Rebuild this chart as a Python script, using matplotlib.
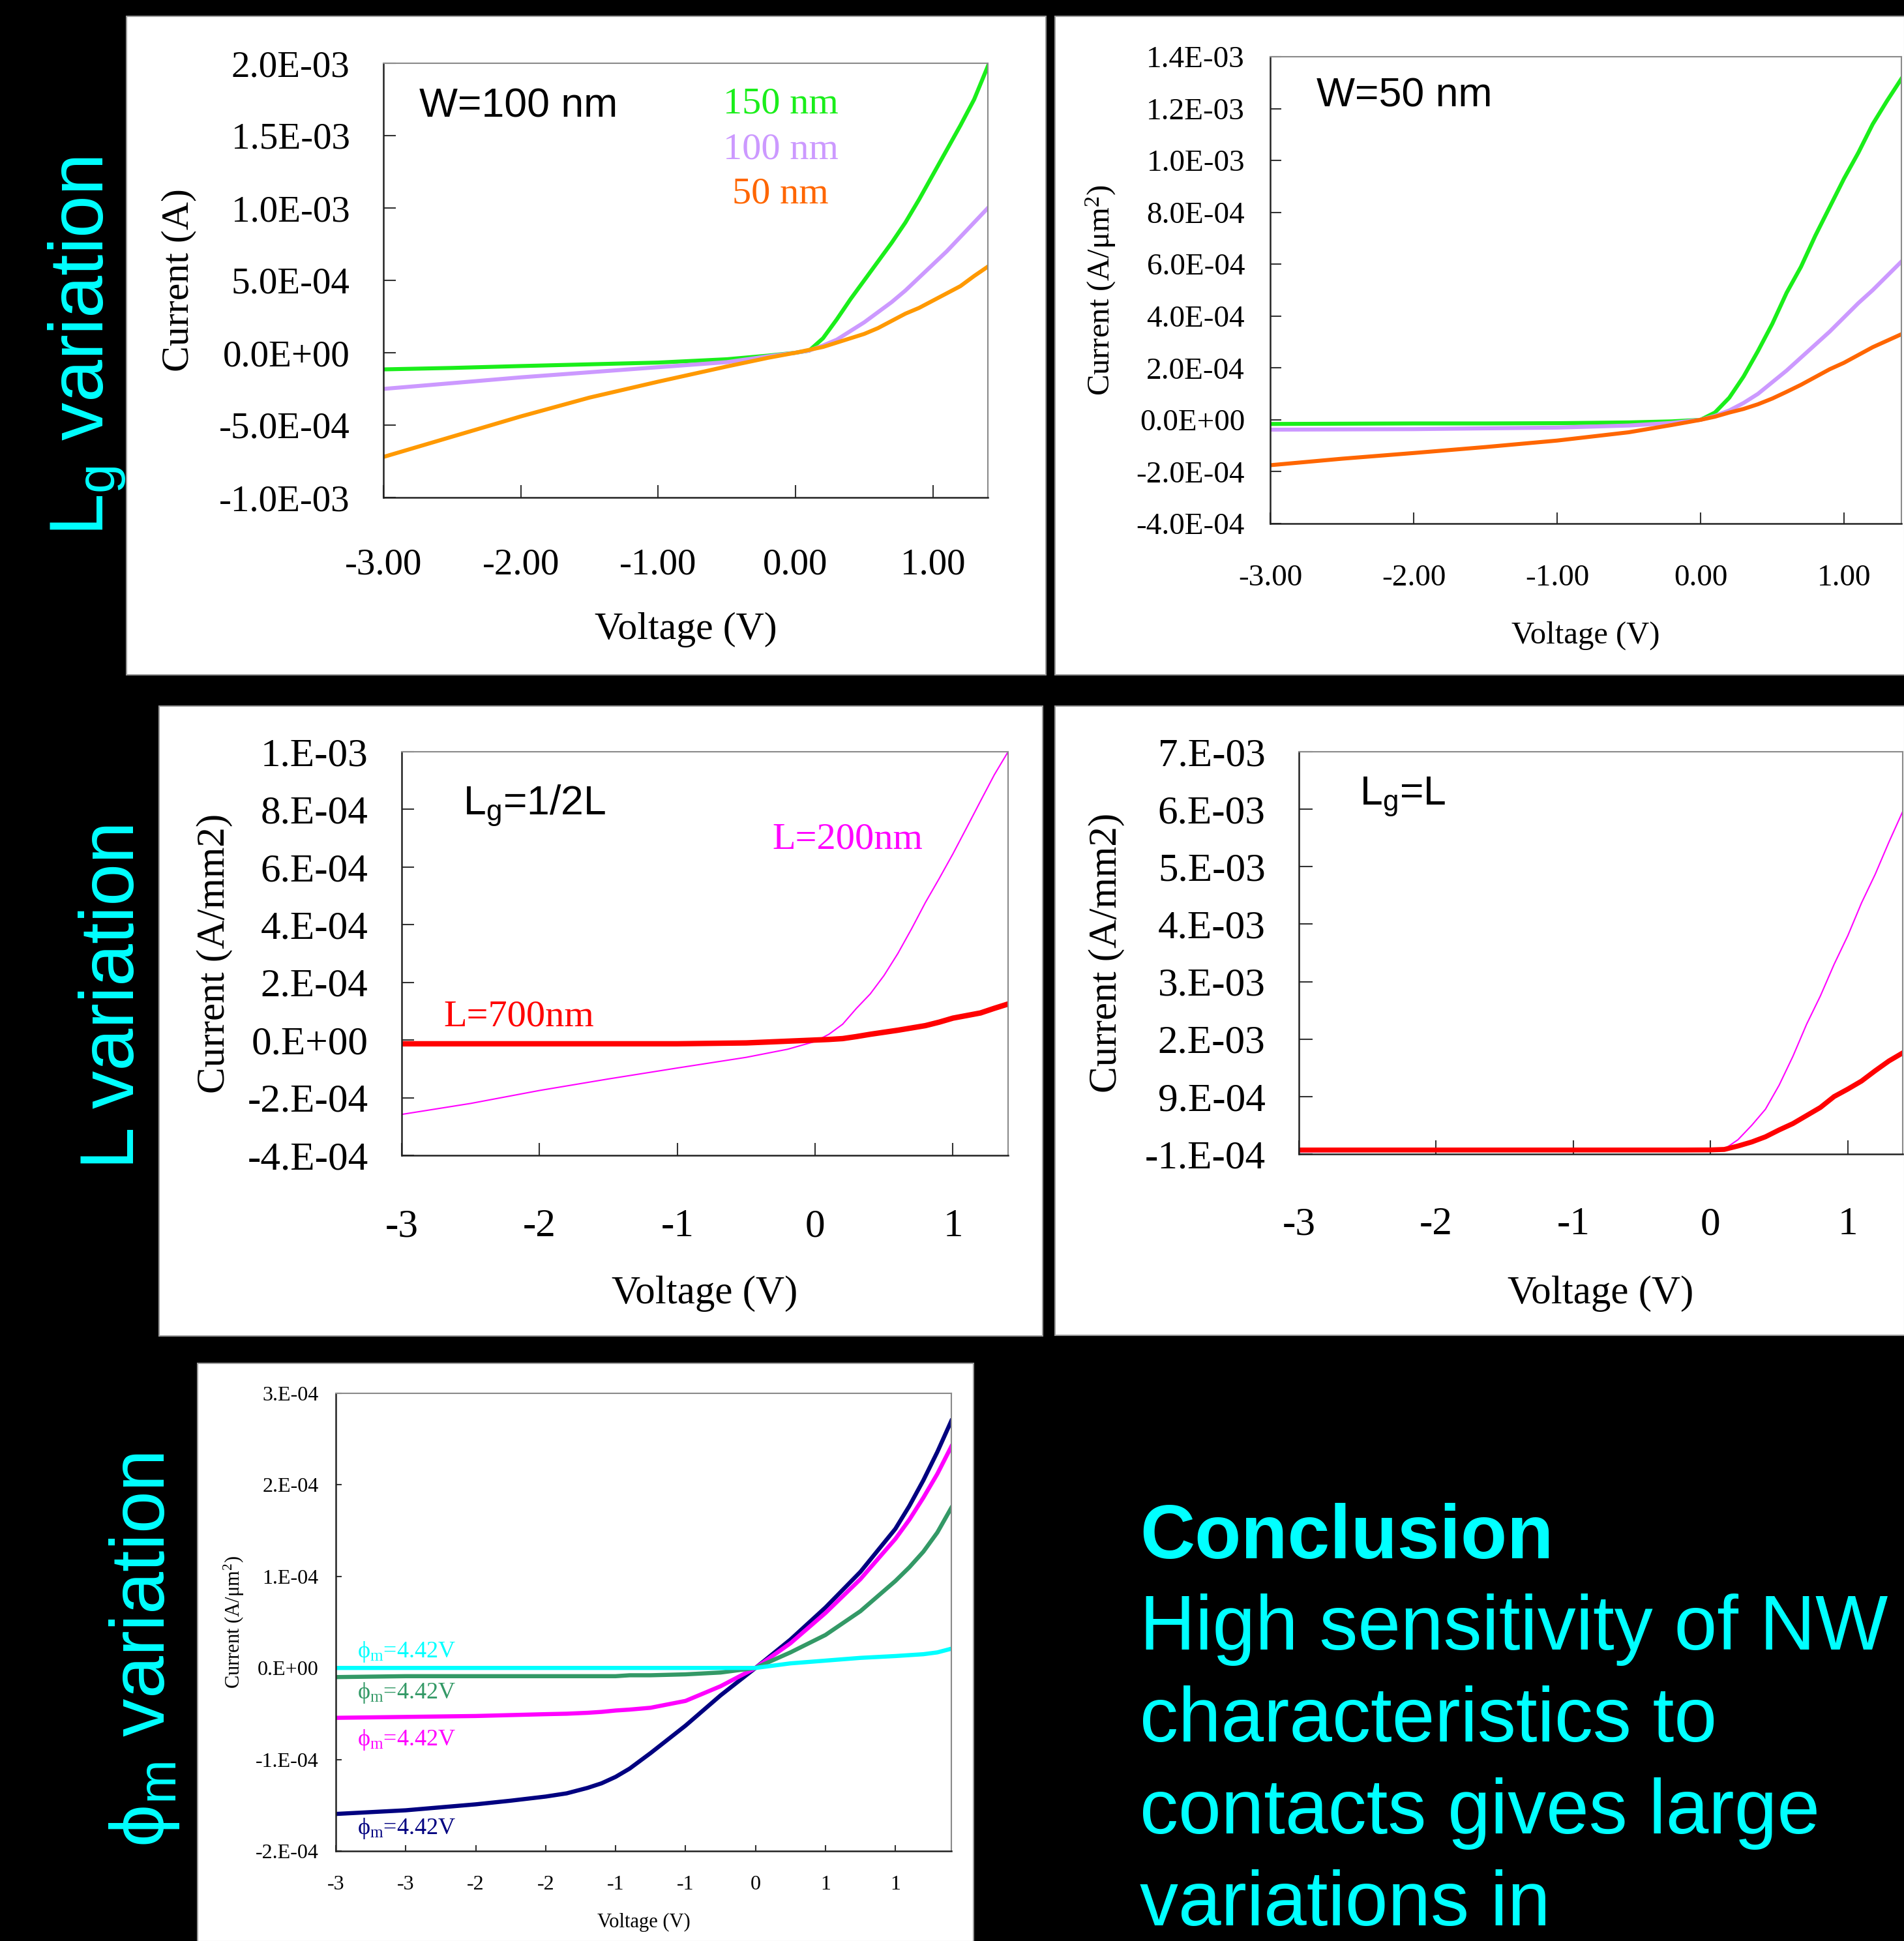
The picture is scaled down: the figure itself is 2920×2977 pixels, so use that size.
import matplotlib.pyplot as plt
from matplotlib.patches import Rectangle

plt.rcParams["mathtext.default"] = "regular"

W_PX, H_PX = 2920, 2977
SERIF = ["Liberation Serif", "DejaVu Serif"]
SANS = ["Liberation Sans", "DejaVu Sans"]
CYAN = "#00ffff"

# currents below are in units of 1e-4 (A or A/area); voltages in V

# --- Lg variation, W=100 nm
v_w100 = [-3.0, -2.5, -2.0, -1.5, -1.0, -0.5, -0.2, 0.0, 0.1, 0.2, 0.3,
          0.4, 0.5, 0.6, 0.7, 0.8, 0.9, 1.0, 1.1, 1.2, 1.3, 1.4]
i_w100_150 = [-1.15, -1.05, -0.92, -0.8, -0.68, -0.45, -0.2, 0.0, 0.15, 1.0, 2.3,
              3.7, 5.0, 6.3, 7.6, 9.0, 10.6, 12.3, 14.0, 15.7, 17.5, 19.8]
i_w100_100 = [-2.5, -2.1, -1.7, -1.35, -1.0, -0.65, -0.25, 0.0, 0.15, 0.5, 0.9,
              1.5, 2.1, 2.8, 3.5, 4.3, 5.2, 6.1, 7.0, 8.0, 9.0, 10.0]
i_w100_50 = [-7.2, -5.8, -4.4, -3.1, -2.0, -0.95, -0.35, 0.0, 0.2, 0.4, 0.7,
             1.0, 1.3, 1.7, 2.2, 2.7, 3.1, 3.6, 4.1, 4.6, 5.3, 5.95]

# --- Lg variation, W=50 nm
v_w50 = [-3.0, -2.5, -2.0, -1.5, -1.0, -0.5, -0.2, 0.0, 0.1, 0.2, 0.3,
         0.4, 0.5, 0.6, 0.7, 0.8, 0.9, 1.0, 1.1, 1.2, 1.3, 1.4]
i_w50_150 = [-0.16, -0.15, -0.14, -0.14, -0.13, -0.1, -0.06, 0.0, 0.28, 0.85, 1.67,
             2.65, 3.7, 4.9, 5.9, 7.1, 8.2, 9.3, 10.3, 11.4, 12.3, 13.15]
i_w50_100 = [-0.38, -0.37, -0.36, -0.33, -0.3, -0.22, -0.12, 0.0, 0.15, 0.36, 0.65,
             1.0, 1.45, 1.9, 2.4, 2.9, 3.4, 3.95, 4.5, 5.0, 5.55, 6.1]
i_w50_50 = [-1.75, -1.5, -1.28, -1.05, -0.8, -0.48, -0.2, 0.0, 0.12, 0.28, 0.42,
            0.6, 0.82, 1.08, 1.35, 1.65, 1.95, 2.2, 2.5, 2.8, 3.05, 3.3]

# --- L variation
v_l = [-3.0, -2.5, -2.0, -1.5, -1.0, -0.5, -0.2, 0.0, 0.1, 0.2, 0.3,
       0.4, 0.5, 0.6, 0.7, 0.8, 0.9, 1.0, 1.1, 1.2, 1.3, 1.4]
i_half_200 = [-2.58, -2.2, -1.75, -1.35, -0.97, -0.6, -0.32, -0.05, 0.2, 0.55, 1.1,
              1.6, 2.24, 3.0, 3.86, 4.77, 5.6, 6.46, 7.37, 8.29, 9.2, 10.0]
i_half_700 = [-0.13, -0.13, -0.13, -0.13, -0.13, -0.1, -0.04, 0.0, 0.02, 0.05, 0.12,
              0.2, 0.27, 0.34, 0.42, 0.5, 0.62, 0.76, 0.85, 0.94, 1.1, 1.25]
i_full_200 = [-0.6, -0.55, -0.45, -0.4, -0.38, -0.35, -0.33, -0.3, -0.15, 1.5, 4.0,
              6.8, 11.0, 16.0, 21.6, 26.5, 32.0, 37.0, 42.7, 47.7, 53.3, 58.6]
i_full_700 = [-0.3, -0.3, -0.3, -0.3, -0.3, -0.3, -0.3, -0.28, -0.2, 0.4, 1.1,
              2.0, 3.2, 4.3, 5.7, 7.1, 9.0, 10.3, 11.7, 13.5, 15.2, 16.6]

# --- phi_m variation
v_phi = [-3.0, -2.5, -2.0, -1.75, -1.5, -1.35, -1.2, -1.1, -1.0, -0.9, -0.75, -0.5, -0.25, 0.0,
         0.25, 0.5, 0.75, 1.0, 1.1, 1.2, 1.3, 1.4]
i_phi_navy = [-1.595, -1.555, -1.49, -1.45, -1.405, -1.37, -1.31, -1.26, -1.19, -1.1, -0.93,
              -0.63, -0.30, 0.0, 0.31, 0.66, 1.05, 1.52, 1.77, 2.05, 2.36, 2.7]
i_phi_magenta = [-0.545, -0.535, -0.525, -0.515, -0.505, -0.5, -0.49, -0.48, -0.465, -0.455, -0.435,
                 -0.36, -0.2, 0.0, 0.27, 0.6, 0.97, 1.41, 1.62, 1.86, 2.12, 2.42]
i_phi_green = [-0.1, -0.09, -0.09, -0.09, -0.09, -0.09, -0.09, -0.09, -0.09, -0.08, -0.08,
               -0.07, -0.05, 0.0, 0.17, 0.36, 0.62, 0.95, 1.1, 1.27, 1.48, 1.75]
i_phi_cyan = [0.0, 0.0, 0.0, 0.0, 0.0, 0.0, 0.0, 0.0, 0.0, 0.0, 0.0,
              0.0, 0.0, 0.0, 0.05, 0.08, 0.11, 0.13, 0.14, 0.15, 0.17, 0.21]

# tick labels (Excel style)
x_lab_2dp = ["-3.00", "-2.00", "-1.00", "0.00", "1.00"]
x_lab_int = ["-3", "-2", "-1", "0", "1"]
x_lab_half = ["-3", "-3", "-2", "-2", "-1", "-1", "0", "1", "1"]
y_lab_w100 = ["-1.0E-03", "-5.0E-04", "0.0E+00", "5.0E-04", "1.0E-03", "1.5E-03", "2.0E-03"]
y_lab_w50 = ["-4.0E-04", "-2.0E-04", "0.0E+00", "2.0E-04", "4.0E-04", "6.0E-04",
             "8.0E-04", "1.0E-03", "1.2E-03", "1.4E-03"]
y_lab_half = ["-4.E-04", "-2.E-04", "0.E+00", "2.E-04", "4.E-04", "6.E-04", "8.E-04", "1.E-03"]
y_lab_full = ["-1.E-04", "9.E-04", "2.E-03", "3.E-03", "4.E-03", "5.E-03", "6.E-03", "7.E-03"]
y_lab_phi = ["-2.E-04", "-1.E-04", "0.E+00", "1.E-04", "2.E-04", "3.E-04"]

fig = plt.figure(figsize=(W_PX / 100, H_PX / 100), dpi=100, facecolor="black")


def fx(x):
    return x / W_PX


def fy(y):
    return 1 - y / H_PX


def ftext(x, y, s, **kw):
    fig.text(fx(x), fy(y), s, **kw)


def white_box(l, t, r, b):
    fig.add_artist(Rectangle((fx(l), fy(b)), (r - l) / W_PX, (b - t) / H_PX,
                             transform=fig.transFigure, facecolor="white",
                             edgecolor="#9a9a9a", linewidth=1.5, zorder=-1))


def panel(box, xlim, ylim, xticks, xlabels, yticks, ylabels, fs, pad_x, pad_y,
          tick_len, lab_fs, xlab_top, ylab_x, ylabel):
    l, t, r, b = box
    ax = fig.add_axes([fx(l), fy(b), (r - l) / W_PX, (b - t) / H_PX])
    ax.set_facecolor("white")
    ax.set_xlim(xlim)
    ax.set_ylim(ylim)
    ax.set_xticks(xticks)
    ax.set_xticklabels(xlabels, family=SERIF, fontsize=fs)
    ax.set_yticks(yticks)
    ax.set_yticklabels(ylabels, family=SERIF, fontsize=fs)
    ax.tick_params(direction="in", length=tick_len, width=1.5, color="#333333")
    ax.tick_params(axis="x", pad=pad_x)
    ax.tick_params(axis="y", pad=pad_y)
    for side in ["left", "bottom"]:
        ax.spines[side].set_color("#222222")
        ax.spines[side].set_linewidth(1.8)
    for side in ["top", "right"]:
        ax.spines[side].set_color("#8a8a8a")
        ax.spines[side].set_linewidth(1.5)
    ax.set_xlabel("Voltage (V)", family=SERIF, fontsize=lab_fs)
    ax.xaxis.set_label_coords(0.5, -(xlab_top - b) / (b - t))
    ax.set_ylabel(ylabel, family=SERIF, fontsize=lab_fs)
    ax.yaxis.set_label_coords((ylab_x - l) / (r - l), 0.5)
    return ax


# white panel backgrounds
white_box(194, 25, 1604, 1035)
white_box(1618, 25, 2921, 1035)
white_box(244, 1083, 1599, 2049)
white_box(1618, 1083, 2921, 2048)
white_box(303, 2091, 1493, 2978)

# --- top left: W=100 nm
ax = panel((588, 97, 1515, 763), (-3, 1.4), (-10, 20), [-3, -2, -1, 0, 1], x_lab_2dp,
           [-10, -5, 0, 5, 10, 15, 20], y_lab_w100, 41, 56, 37, 14, 43, 939, 301,
           "Current (A)")
ax.plot(v_w100, i_w100_150, color="#1aee1a", lw=4.4)
ax.plot(v_w100, i_w100_100, color="#cc99ff", lw=4.4)
ax.plot(v_w100, i_w100_50, color="#ff9900", lw=4.4)
ftext(643, 179, "W=100 nm", family=SANS, fontsize=45, color="black")
ftext(1197, 173, "150 nm", family=SERIF, fontsize=42, color="#1aee1a", ha="center")
ftext(1197, 243, "100 nm", family=SERIF, fontsize=42, color="#cc99ff", ha="center")
ftext(1197, 312, "50 nm", family=SERIF, fontsize=42, color="#ff6600", ha="center")

# --- top right: W=50 nm
ax = panel((1948, 87, 2916, 803), (-3, 1.4), (-4, 14), [-3, -2, -1, 0, 1], x_lab_2dp,
           [-4, -2, 0, 2, 4, 6, 8, 10, 12, 14], y_lab_w50, 34, 45, 28, 12, 35, 953, 1714,
           "Current (A/μm$^{2}$)")
ax.plot(v_w50, i_w50_150, color="#1aee1a", lw=4.4)
ax.plot(v_w50, i_w50_100, color="#cc99ff", lw=4.4)
ax.plot(v_w50, i_w50_50, color="#ff6600", lw=4.4)
ftext(2019, 163, "W=50 nm", family=SANS, fontsize=45, color="black")

# --- middle left: Lg = 1/2 L
ax = panel((616, 1153, 1546, 1772), (-3, 1.4), (-4, 10), [-3, -2, -1, 0, 1], x_lab_int,
           [-4, -2, 0, 2, 4, 6, 8, 10], y_lab_half, 44, 59, 37, 14, 44, 1956, 357,
           "Current (A/mm2)")
ax.plot(v_l, i_half_200, color="#ff00ff", lw=1.5)
ax.plot(v_l, i_half_700, color="#ff0000", lw=6)
ftext(710, 1249, "L$_g$=1/2L", family=SANS, fontsize=45, color="black")
ftext(1184, 1301, "L=200nm", family=SERIF, fontsize=42, color="#ff00ff")
ftext(680, 1574, "L=700nm", family=SERIF, fontsize=42, color="#ff0000")

# --- middle right: Lg = L
ax = panel((1992, 1153, 2918, 1770), (-3, 1.4), (-1, 69), [-3, -2, -1, 0, 1], x_lab_int,
           [-1, 9, 19, 29, 39, 49, 59, 69], y_lab_full, 44, 58, 37, 15, 44, 1956, 1725,
           "Current (A/mm2)")
ax.plot(v_l, i_full_200, color="#ff00ff", lw=1.5)
ax.plot(v_l, i_full_700, color="#ff0000", lw=5.5)
ftext(2085, 1234, "L$_g$=L", family=SANS, fontsize=45, color="black")

# --- bottom: phi_m variation
ax = panel((515, 2137, 1459, 2839), (-3, 1.4), (-2, 3),
           [-3, -2.5, -2, -1.5, -1, -0.5, 0, 0.5, 1], x_lab_half,
           [-2, -1, 0, 1, 2, 3], y_lab_phi, 23, 27, 19, 6.5, 22, 2934, 377,
           "Current (A/μm$^{2}$)")
ax.plot(v_phi, i_phi_navy, color="#000080", lw=4.6)
ax.plot(v_phi, i_phi_magenta, color="#ff00ff", lw=4.6)
ax.plot(v_phi, i_phi_green, color="#339966", lw=4.6)
ax.plot(v_phi, i_phi_cyan, color="#00ffff", lw=4.6)
phi_label = "ϕ$_m$=4.42V"
ftext(548, 2542, phi_label, family=SERIF, fontsize=26, color="#00ffff")
ftext(548, 2605, phi_label, family=SERIF, fontsize=26, color="#339966")
ftext(548, 2677, phi_label, family=SERIF, fontsize=26, color="#ff00ff")
ftext(548, 2813, phi_label, family=SERIF, fontsize=26, color="#000080")

# --- side labels
side = dict(rotation=90, rotation_mode="anchor", ha="center", va="baseline",
            family=SANS, fontsize=84, color=CYAN)
ftext(158, 531, "L$_g$ variation", **side)
ftext(205, 1526, "L variation", **side)
ftext(252, 2530, "ϕ$_m$ variation", **side)

# --- conclusion text
ftext(1748, 2390, "Conclusion", family=SANS, fontsize=84, fontweight="bold", color=CYAN)
body = ["High sensitivity of NW", "characteristics to", "contacts gives large", "variations in"]
for k, line in enumerate(body):
    ftext(1748, 2530 + 141 * k, line, family=SANS, fontsize=85, color=CYAN)

fig.savefig("out.png", dpi=100, facecolor="black")
